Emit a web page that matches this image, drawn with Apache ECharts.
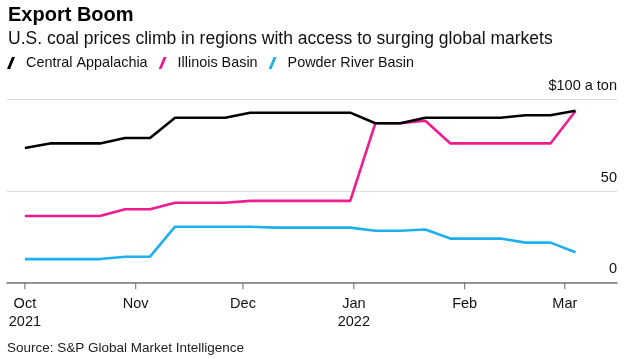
<!DOCTYPE html>
<html>
<head>
<meta charset="utf-8">
<script src="https://cdn.jsdelivr.net/npm/echarts@6/dist/echarts.min.js"></script>
<style>html,body{margin:0;padding:0;background:#fff}#c{width:638px;height:358px}</style>
</head>
<body>
<div id="c"></div>
<script>
// Weekly observation dates (Fridays)
const dates = ['2021-10-01','2021-10-08','2021-10-15','2021-10-22','2021-10-29','2021-11-05','2021-11-12','2021-11-19','2021-11-26','2021-12-03','2021-12-10','2021-12-17','2021-12-24','2021-12-31','2022-01-07','2022-01-14','2022-01-21','2022-01-28','2022-02-04','2022-02-11','2022-02-18','2022-02-25','2022-03-04'];
const centralAppalachia = [73.5,76,76,76,79,79,90,90,90,92.8,92.8,92.8,92.8,92.8,87,87,90,90,90,90,91.4,91.4,93.9];
const illinoisBasin = [36.3,36.3,36.3,36.3,40,40,43.6,43.6,43.6,44.6,44.6,44.6,44.6,44.6,87,87,88.4,76,76,76,76,76,93.7];
const powderRiverBasin = [12.8,12.8,12.8,12.8,14.1,14.1,30.5,30.5,30.5,30.5,30,30,30,30,28.3,28.3,29,24,24,24,21.8,21.8,16.5];
const xTickDates = ['2021-10-01','2021-11-01','2021-12-01','2022-01-01','2022-02-01','2022-03-01'];
const xTickLabels = ['Oct\n2021','Nov','Dec','Jan\n2022','Feb','Mar'];
const yTicks = [0, 50, 100];
const yTickLabels = ['0','50','$100 a ton'];

function toTime(s){ const p = s.split('-'); return new Date(+p[0], +p[1]-1, +p[2]).getTime(); }
function pairs(vals){ return dates.map((d,i)=>[toTime(d), vals[i]]); }
const xTickTimes = xTickDates.map(toTime);

const chart = echarts.init(document.getElementById('c'), null, {renderer:'canvas'});
const slash = 'path://M0,12 L3,12 L8,0 L5,0 Z';
const font = 'Liberation Sans, Arial, sans-serif';
chart.setOption({
  animation:false,
  textStyle:{fontFamily:font},
  title:{
    text:'Export Boom',
    subtext:'U.S. coal prices climb in regions with access to surging global markets',
    left:3, top:0, itemGap:5,
    textStyle:{fontSize:20, fontWeight:'bold', color:'#000', fontFamily:font},
    subtextStyle:{fontSize:17.5, color:'#111', fontFamily:font}
  },
  legend:{
    left:7, top:56, itemWidth:8, itemHeight:13, itemGap:11, padding:0,
    textStyle:{fontSize:14.4, color:'#111', fontFamily:font, padding:[0,0,0,6]},
    data:[
      {name:'Central Appalachia', icon:slash},
      {name:'Illinois Basin', icon:slash},
      {name:'Powder River Basin', icon:slash}
    ]
  },
  graphic:[{type:'text', left:7, top:341, style:{text:'Source: S&P Global Market Intelligence', fontSize:13.5, fill:'#222', fontFamily:font}}],
  grid:{left:7, right:21, top:99.5, bottom:75.5},
  xAxis:{
    type:'time',
    min:toTime('2021-09-26'),
    max:new Date(2021,9,1).getTime() + 165.6*86400000,
    minInterval:28*86400000,
    maxInterval:31*86400000,
    axisLine:{show:true, lineStyle:{color:'#777', width:1.5}},
    axisTick:{show:false},
    splitLine:{show:false},
    axisLabel:{
      fontSize:14.5, color:'#111', lineHeight:18, margin:12, fontFamily:font,
      formatter:function(v){
        const i = xTickTimes.indexOf(v);
        return i >= 0 ? xTickLabels[i] : '';
      }
    }
  },
  yAxis:{
    type:'value', position:'right', min:0, max:100, interval:50,
    axisLine:{show:false}, axisTick:{show:false},
    splitLine:{show:true, lineStyle:{color:'#dcdcdc', width:1}},
    axisLabel:{
      inside:true, margin:0, verticalAlign:'bottom', padding:[0,0,6,0],
      fontSize:14.5, color:'#111', fontFamily:font,
      formatter:function(v){ const i = yTicks.indexOf(v); return i >= 0 ? yTickLabels[i] : String(v); }
    }
  },
  series:[
    {name:'ticks', type:'scatter', data:xTickTimes.map(t=>[t,0]), symbol:'rect', symbolSize:[1,6], symbolOffset:[0,3.75], itemStyle:{color:'#444'}, clip:false, silent:true, z:0},
    {name:'Central Appalachia', type:'line', data:pairs(centralAppalachia), showSymbol:false, lineStyle:{width:2.6, color:'#000'}, itemStyle:{color:'#000'}, z:3},
    {name:'Illinois Basin', type:'line', data:pairs(illinoisBasin), showSymbol:false, lineStyle:{width:2.6, color:'#ee1c8e'}, itemStyle:{color:'#ee1c8e'}, z:2},
    {name:'Powder River Basin', type:'line', data:pairs(powderRiverBasin), showSymbol:false, lineStyle:{width:2.6, color:'#1eb0ee'}, itemStyle:{color:'#1eb0ee'}, z:1}
  ]
});
</script>
</body>
</html>
